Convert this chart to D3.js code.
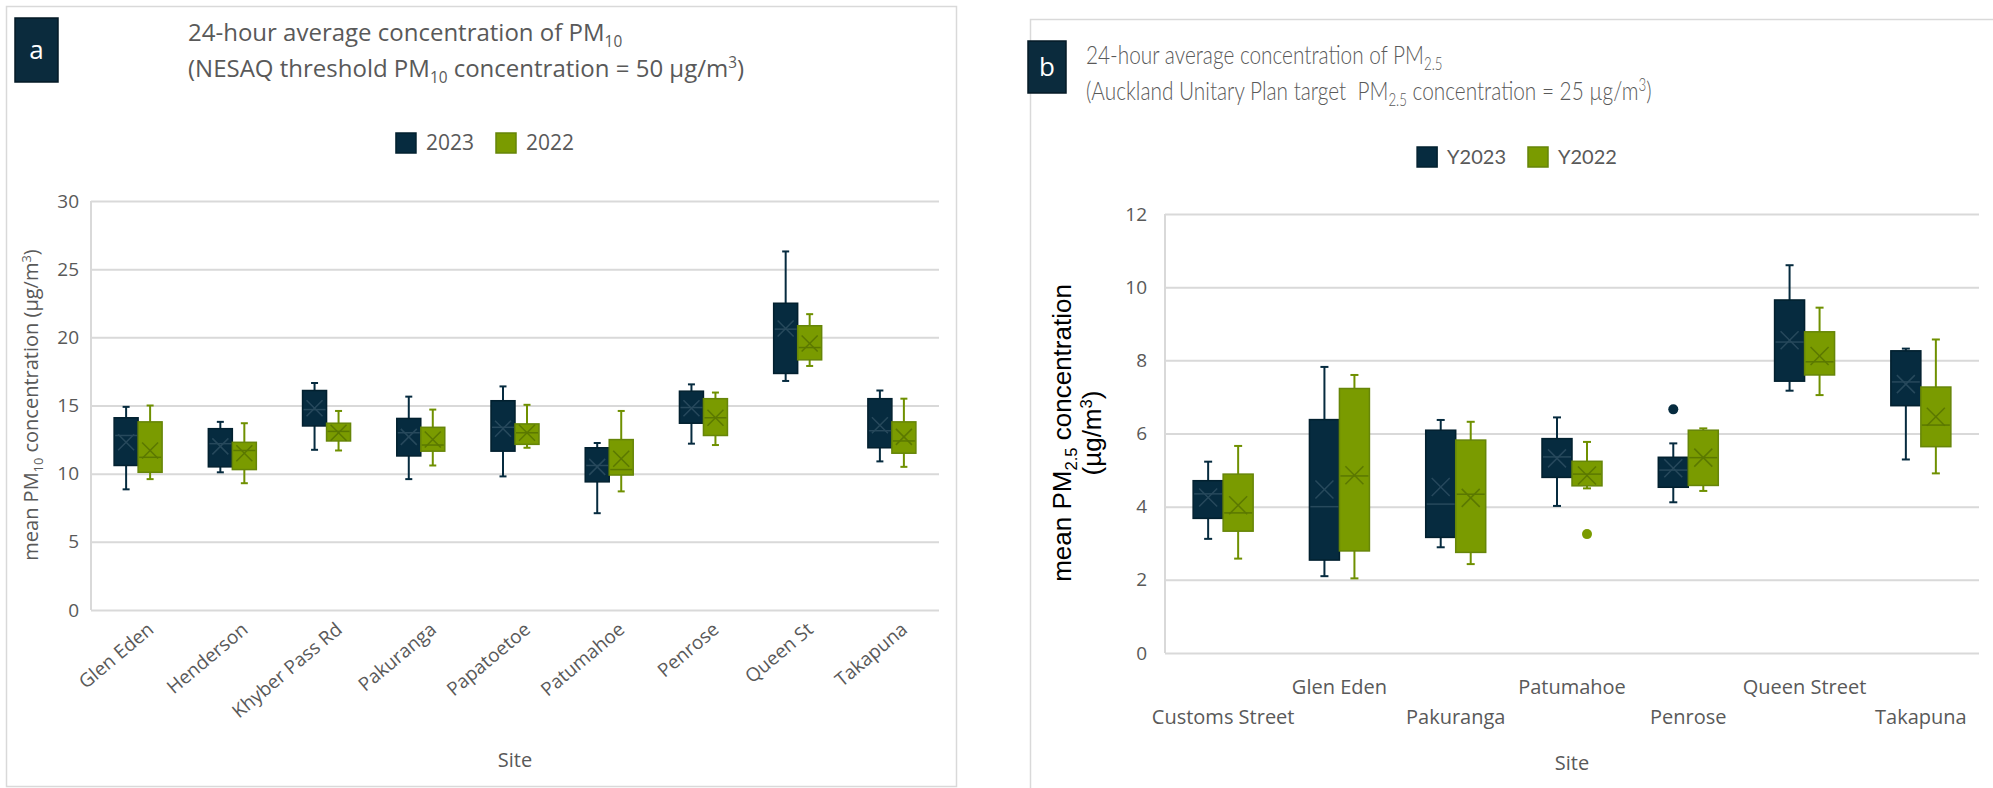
<!DOCTYPE html>
<html>
<head>
<meta charset="utf-8">
<script src="https://cdn.jsdelivr.net/npm/d3@7"></script>
<style>
  body { margin: 0; background: #fff; }
  text { white-space: pre; }
</style>
</head>
<body>
<script>
'use strict';

// ---- data -------------------------------------------------------------
// each entry: [whisker low, Q1, median, Q3, whisker high, mean]
var sitesPM10 = ['Glen Eden', 'Henderson', 'Khyber Pass Rd', 'Pakuranga', 'Papatoetoe',
    'Patumahoe', 'Penrose', 'Queen St', 'Takapuna'];
var pm10Y2023 = [
    [8.85, 10.6, 12.8, 14.1, 14.9, 12.3],
    [10.1, 10.5, 12.2, 13.3, 13.8, 12.0],
    [11.75, 13.5, 14.7, 16.1, 16.65, 14.8],
    [9.6, 11.3, 13.0, 14.05, 15.65, 12.7],
    [9.8, 11.65, 13.4, 15.35, 16.4, 13.3],
    [7.1, 9.4, 10.6, 11.9, 12.25, 10.5],
    [12.2, 13.7, 14.85, 16.05, 16.55, 14.8],
    [16.8, 17.35, 20.6, 22.5, 26.3, 20.65],
    [10.9, 11.9, 13.15, 15.5, 16.1, 13.55]
];
var pm10Y2022 = [
    [9.6, 10.1, 11.2, 13.8, 15.0, 11.7],
    [9.3, 10.3, 11.7, 12.3, 13.7, 11.5],
    [11.7, 12.4, 13.1, 13.7, 14.6, 13.0],
    [10.6, 11.65, 12.1, 13.4, 14.7, 12.5],
    [11.9, 12.15, 13.0, 13.65, 15.05, 13.0],
    [8.7, 9.9, 10.3, 12.5, 14.6, 11.1],
    [12.1, 12.8, 14.1, 15.5, 15.95, 14.1],
    [17.9, 18.35, 19.25, 20.85, 21.7, 19.55],
    [10.5, 11.5, 12.4, 13.8, 15.5, 12.7]
];
var pm10Ticks = [0, 5, 10, 15, 20, 25, 30];

var sitesPM25 = ['Customs Street', 'Glen Eden', 'Pakuranga', 'Patumahoe', 'Penrose',
    'Queen Street', 'Takapuna'];
var pm25Y2023 = [
    [3.12, 3.68, 4.35, 4.71, 5.23, 4.25],
    [2.10, 2.54, 4.0, 6.38, 7.82, 4.47],
    [2.89, 3.16, 4.07, 6.09, 6.37, 4.54],
    [4.02, 4.8, 5.36, 5.86, 6.44, 5.32],
    [4.12, 4.53, 5.0, 5.35, 5.73, 5.05],
    [7.17, 7.43, 8.5, 9.65, 10.6, 8.55],
    [5.29, 6.76, 7.41, 8.26, 8.32, 7.35]
];
var pm25Y2022 = [
    [2.58, 3.33, 3.83, 4.89, 5.66, 4.04],
    [2.04, 2.79, 4.84, 7.23, 7.6, 4.86],
    [2.43, 2.75, 4.34, 5.82, 6.32, 4.24],
    [4.5, 4.57, 4.89, 5.24, 5.77, 4.85],
    [4.43, 4.58, 5.34, 6.09, 6.14, 5.34],
    [7.05, 7.6, 7.96, 8.78, 9.44, 8.12],
    [4.91, 5.64, 6.23, 7.27, 8.57, 6.46]
];
// outliers: [site, value]
var pm25Out2023 = [['Penrose', 6.66]];
var pm25Out2022 = [['Patumahoe', 3.25]];
var pm25Ticks = [0, 2, 4, 6, 8, 10, 12];

// ---- look ---------------------------------------------------------------
var NAVY = '#062b3f', NAVY_LINE = '#02202f', NAVY_INNER = '#27495c';
var GREEN = '#7a9b00', GREEN_LINE = '#668508', GREEN_INNER = '#5b7800';
var GREY = '#595959', GRID = '#d9d9d9';

var svg = d3.select('body').append('svg')
    .attr('width', 1993).attr('height', 788);

// text with sub / superscripts; parts = [[str, 'sub'|'sup'|undefined], ...]
function rich(sel, parts, size) {
    var shift = 0;
    parts.forEach(function (p) {
        var target = p[1] === 'sub' ? size * 0.24 : p[1] === 'sup' ? -size * 0.36 : 0;
        var ts = sel.append('tspan').text(p[0]).attr('dy', target - shift);
        if (p[1]) ts.attr('font-size', size * 0.64);
        shift = target;
    });
    return sel;
}

function legend(cx, cy, items, font, size, sq) {
    var g = svg.append('g');
    var pos = 0;
    items.forEach(function (it) {
        g.append('rect').attr('x', pos).attr('y', cy - sq / 2)
            .attr('width', sq).attr('height', sq)
            .attr('fill', it.color).attr('stroke', it.line).attr('stroke-width', 1.5);
        var t = g.append('text').attr('x', pos + sq + 10).attr('y', cy).attr('dy', '0.35em')
            .attr('font-family', font).attr('font-size', size).attr('fill', GREY)
            .text(it.name);
        pos += sq + 10 + t.node().getComputedTextLength() + 22;
    });
    g.attr('transform', 'translate(' + (cx - (pos - 22) / 2) + ',0)');
}

function badge(x, y, w, h, letter) {
    svg.append('rect').attr('x', x).attr('y', y).attr('width', w).attr('height', h)
        .attr('fill', '#0b2b3d').attr('stroke', '#041a26').attr('stroke-width', 1.5);
    svg.append('text').attr('x', x + w / 2).attr('y', y + h / 2).attr('dy', '0.33em')
        .attr('text-anchor', 'middle').attr('font-family', 'Open Sans')
        .attr('font-size', 26).attr('fill', '#fff').text(letter);
}

function boxes(o, x, y, series, k) {
    var bw = o.boxW;
    var g = svg.append('g');
    var items = g.selectAll('g').data(series.values.map(function (v, i) {
        return { site: o.sites[i], v: v };
    })).enter().append('g');

    function bx(d) { return x(d.site) + x.bandwidth() / 2 + (k === 0 ? -bw : 0); }
    function mid(d) { return bx(d) + bw / 2; }

    // whiskers
    items.append('line').attr('x1', mid).attr('x2', mid)
        .attr('y1', function (d) { return y(d.v[0]); }).attr('y2', function (d) { return y(d.v[1]); });
    items.append('line').attr('x1', mid).attr('x2', mid)
        .attr('y1', function (d) { return y(d.v[3]); }).attr('y2', function (d) { return y(d.v[4]); });
    [0, 4].forEach(function (j) {
        items.append('line')
            .attr('x1', function (d) { return mid(d) - o.cap / 2; })
            .attr('x2', function (d) { return mid(d) + o.cap / 2; })
            .attr('y1', function (d) { return y(d.v[j]); }).attr('y2', function (d) { return y(d.v[j]); });
    });
    items.selectAll('line').attr('stroke', series.whisker).attr('stroke-width', 2);

    items.append('rect').attr('x', bx).attr('width', bw)
        .attr('y', function (d) { return y(d.v[3]); })
        .attr('height', function (d) { return y(d.v[1]) - y(d.v[3]); })
        .attr('fill', series.color).attr('stroke', series.line).attr('stroke-width', 1.5);

    // median
    items.append('line').attr('x1', function (d) { return bx(d) + 1; })
        .attr('x2', function (d) { return bx(d) + bw - 1; })
        .attr('y1', function (d) { return y(d.v[2]); }).attr('y2', function (d) { return y(d.v[2]); })
        .attr('stroke', series.inner).attr('stroke-width', 1.5);
    // mean marker
    var m = o.markHalf;
    [1, -1].forEach(function (s) {
        items.append('line')
            .attr('x1', function (d) { return mid(d) - m; }).attr('x2', function (d) { return mid(d) + m; })
            .attr('y1', function (d) { return y(d.v[5]) - s * m; })
            .attr('y2', function (d) { return y(d.v[5]) + s * m; })
            .attr('stroke', series.inner).attr('stroke-width', 1.5);
    });

    if (series.outliers) {
        g.selectAll('circle').data(series.outliers).enter().append('circle')
            .attr('cx', function (d) { return x(d[0]) + x.bandwidth() / 2 + (k === 0 ? -bw / 2 : bw / 2); })
            .attr('cy', function (d) { return y(d[1]); })
            .attr('r', 5).attr('fill', series.color);
    }
}

function plot(o) {
    var x = d3.scaleBand().domain(o.sites).range([o.left, o.right]);
    var y = d3.scaleLinear().domain([0, o.ticks[o.ticks.length - 1]]).range([o.bottom, o.top]);

    var ya = svg.append('g').attr('transform', 'translate(' + o.left + ',0)')
        .call(d3.axisLeft(y).tickValues(o.ticks).tickSize(-(o.right - o.left)).tickPadding(o.pad));
    ya.select('.domain').remove();
    ya.selectAll('line').attr('stroke', GRID).attr('stroke-width', 2);
    ya.selectAll('text').attr('font-family', 'Open Sans').attr('font-size', 19).attr('fill', GREY);
    svg.append('line').attr('x1', o.left).attr('x2', o.left).attr('y1', o.top).attr('y2', o.bottom)
        .attr('stroke', GRID).attr('stroke-width', 2);

    var xa = svg.append('g').attr('transform', 'translate(0,' + o.bottom + ')')
        .call(d3.axisBottom(x).tickSize(0));
    xa.select('.domain').remove();
    xa.selectAll('text').attr('font-family', 'Open Sans').attr('font-size', o.xFont).attr('fill', GREY);
    o.labels(xa.selectAll('text'));

    o.series.forEach(function (s, k) { boxes(o, x, y, s, k); });

    svg.append('text').attr('x', (o.left + o.right) / 2).attr('y', o.siteY).attr('dy', '0.35em')
        .attr('text-anchor', 'middle').attr('font-family', 'Open Sans').attr('font-size', 20)
        .attr('fill', GREY).text('Site');
}

// ---- panel a ---------------------------------------------------------------
svg.append('rect').attr('x', 6.5).attr('y', 6.5).attr('width', 950).attr('height', 780)
    .attr('fill', 'none').attr('stroke', GRID).attr('stroke-width', 1.5);
badge(15, 18, 43, 64, 'a');

var titleA = svg.append('g').attr('font-family', 'Open Sans').attr('font-size', 24).attr('fill', GREY);
rich(titleA.append('text').attr('x', 188).attr('y', 41),
    [['24-hour average concentration of PM'], ['10', 'sub']], 24);
rich(titleA.append('text').attr('x', 188).attr('y', 77),
    [['(NESAQ threshold PM'], ['10', 'sub'], [' concentration = 50 µg/m'], ['3', 'sup'], [')']], 24);

legend(485, 143, [
    { name: '2023', color: NAVY, line: NAVY_LINE },
    { name: '2022', color: GREEN, line: GREEN_LINE }
], 'Open Sans', 21, 20);

rich(svg.append('text').attr('transform', 'translate(38,405) rotate(-90)')
    .attr('text-anchor', 'middle').attr('dy', '0.35em')
    .attr('font-family', 'Open Sans').attr('font-size', 20).attr('fill', GREY),
    [['mean PM'], ['10', 'sub'], [' concentration (µg/m'], ['3', 'sup'], [')']], 20);

plot({
    sites: sitesPM10, ticks: pm10Ticks,
    left: 91, right: 939, top: 201, bottom: 610, pad: 12,
    boxW: 24, cap: 7, markHalf: 8, siteY: 760, xFont: 19,
    series: [
        { values: pm10Y2023, color: NAVY, line: NAVY_LINE, inner: NAVY_INNER, whisker: NAVY },
        { values: pm10Y2022, color: GREEN, line: GREEN_LINE, inner: GREEN_INNER, whisker: '#6f9000' }
    ],
    labels: function (t) {
        t.attr('x', 0).attr('y', 0).attr('dy', '0.72em')
            .attr('text-anchor', 'end')
            .attr('transform', 'translate(8,11) rotate(-40)');
    }
});

// ---- panel b ---------------------------------------------------------------
svg.append('rect').attr('x', 1030.5).attr('y', 19.5).attr('width', 980).attr('height', 790)
    .attr('fill', 'none').attr('stroke', GRID).attr('stroke-width', 1.5);
badge(1028, 41, 38, 52, 'b');

// title set in a narrow light face: Lato squeezed horizontally
var titleB = svg.append('g').attr('transform', 'translate(1086,0) scale(0.8,1)')
    .attr('font-family', 'Lato').attr('font-weight', 300)
    .attr('font-size', 26).attr('fill', GREY);
rich(titleB.append('text').attr('x', 0).attr('y', 64),
    [['24-hour average concentration of PM'], ['2.5', 'sub']], 26);
rich(titleB.append('text').attr('x', 0).attr('y', 100),
    [['(Auckland Unitary Plan target  PM'], ['2.5', 'sub'], [' concentration = 25 µg/m'], ['3', 'sup'], [')']], 26);

legend(1517, 157, [
    { name: 'Y2023', color: NAVY, line: NAVY_LINE },
    { name: 'Y2022', color: GREEN, line: GREEN_LINE }
], 'Lato', 20, 20);

var yLabB = svg.append('g').attr('transform', 'translate(1077,433) rotate(-90)')
    .attr('font-family', 'Liberation Sans').attr('font-size', 26).attr('fill', '#000')
    .attr('text-anchor', 'middle');
rich(yLabB.append('text').attr('y', -6), [['mean PM'], ['2.5', 'sub'], [' concentration']], 26);
rich(yLabB.append('text').attr('y', 24), [['(µg/m'], ['3', 'sup'], [')']], 26);

plot({
    sites: sitesPM25, ticks: pm25Ticks,
    left: 1165, right: 1979, top: 214, bottom: 653, pad: 18,
    boxW: 30, cap: 8, markHalf: 9, siteY: 763, xFont: 20,
    series: [
        { values: pm25Y2023, outliers: pm25Out2023, color: NAVY, line: NAVY_LINE, inner: NAVY_INNER, whisker: NAVY },
        { values: pm25Y2022, outliers: pm25Out2022, color: GREEN, line: GREEN_LINE, inner: GREEN_INNER, whisker: '#6f9000' }
    ],
    labels: function (t) {
        t.attr('y', function (d, i) { return i % 2 ? 34 : 64; }).attr('dy', '0.35em');
    }
});
</script>
</body>
</html>
